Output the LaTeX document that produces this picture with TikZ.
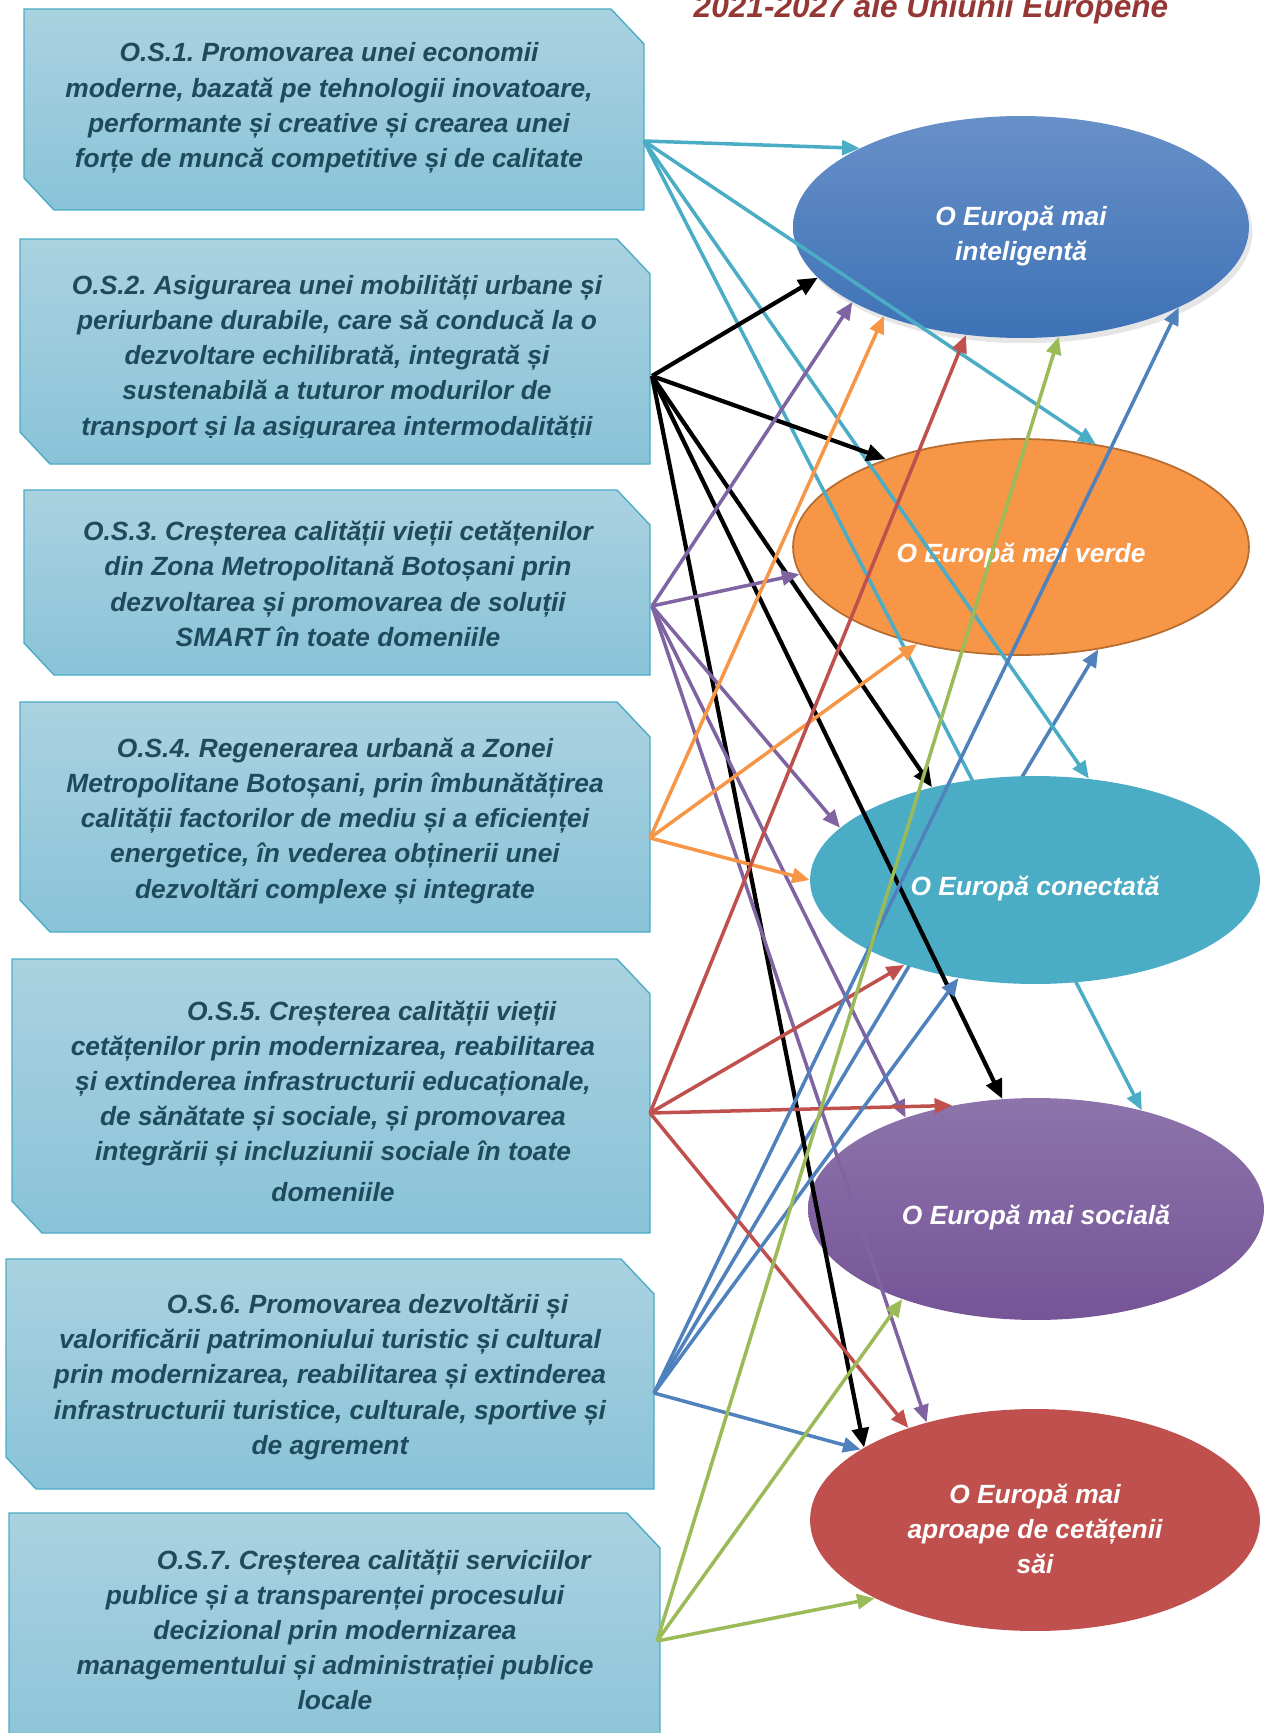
\documentclass[tikz,border=0pt]{standalone}
\usepackage{fontspec}
\setmainfont{Liberation Sans}
\usepackage{tikz}
\usetikzlibrary{arrows.meta,shapes.geometric,shadows}
\definecolor{boxtop}{RGB}{170,210,224}
\definecolor{boxbot}{RGB}{137,195,216}
\definecolor{boxline}{RGB}{75,172,198}
\definecolor{boxtext}{RGB}{30,74,92}
\definecolor{titlered}{RGB}{149,55,53}
\definecolor{smarttop}{RGB}{104,144,200}
\definecolor{smartbot}{RGB}{61,114,182}
\definecolor{greenfill}{RGB}{247,150,70}
\definecolor{greenline}{RGB}{182,109,49}
\definecolor{connfill}{RGB}{75,172,198}
\definecolor{socialtop}{RGB}{141,116,171}
\definecolor{socialbot}{RGB}{117,84,151}
\definecolor{citfill}{RGB}{192,80,77}
\definecolor{cteal}{RGB}{75,172,198}
\definecolor{cpurple}{RGB}{128,100,162}
\definecolor{corange}{RGB}{247,150,70}
\definecolor{cred}{RGB}{192,80,77}
\definecolor{cblue}{RGB}{79,129,189}
\definecolor{cgreen}{RGB}{155,187,89}

% chamfered frame: left, top, right, bottom
\newcommand{\osframe}[4]{%
  \shade[osbox] (#1,#2) -- ({#3-33},#2) -- (#3,{#2+35}) -- (#3,#4) -- ({#1+30},#4) -- (#1,{#4-32}) -- cycle;}
\newcommand{\gstrut}{\rule{0pt}{21pt}}

\begin{document}
\frenchspacing
\begin{tikzpicture}[x=0.02cm,y=-0.02cm,
    osbox/.style={top color=boxtop,bottom color=boxbot,draw=boxline,line width=0.8pt},
    ostext/.style={text=boxtext,font=\fontsize{15}{20}\selectfont\bfseries\itshape,align=center},
    goal/.style={ellipse,inner sep=0pt,text=white,font=\fontsize{15}{20}\selectfont\bfseries\itshape,align=center},
    link/.style={-{Triangle[length=10pt,width=8.5pt]},line width=2pt},
    heavy/.style={-{Triangle[length=11pt,width=9.5pt]},line width=2.4pt}]
  \useasboundingbox (0,0) rectangle (1270,1733);

  \node[text=titlered,font=\fontsize{18}{20}\selectfont\bfseries\itshape,anchor=base] (title) at (931,18)
    {2021-2027 ale Uniunii Europene};

  % obiectivele specifice
  \osframe{24}{9}{644}{210}
  \node[ostext] (os1txt) at (329,108) {O.S.1. Promovarea unei economii\\moderne, bazată pe tehnologii inovatoare,\\performante și creative și crearea unei\\forțe de muncă competitive și de calitate};
  \osframe{20}{239}{650}{464}
  \begin{scope}
    \clip (20,239) rectangle (650,437);
    \node[ostext] (os2txt) at (337,358) {O.S.2. Asigurarea unei mobilități urbane și\\periurbane durabile, care să conducă la o\\dezvoltare echilibrată, integrată și\\sustenabilă a tuturor modurilor de\\transport și la asigurarea intermodalității};
  \end{scope}
  \osframe{24}{490}{650}{675}
  \node[ostext] (os3txt) at (338,584) {O.S.3. Creșterea calității vieții cetățenilor\\din Zona Metropolitană Botoșani prin\\dezvoltarea și promovarea de soluții\\SMART în toate domeniile};
  \osframe{20}{702}{650}{932}
  \node[ostext] (os4txt) at (335,821) {O.S.4. Regenerarea urbană a Zonei\\Metropolitane Botoșani, prin îmbunătățirea\\calității factorilor de mediu și a eficienței\\energetice, în vederea obținerii unei\\dezvoltări complexe și integrate};
  \osframe{12}{959}{650}{1233}
  \node[ostext] (os5txt) at (333,1101) {\hspace*{1.55cm}O.S.5. Creșterea calității vieții\\cetățenilor prin modernizarea, reabilitarea\\și extinderea infrastructurii educaționale,\\de sănătate și sociale, și promovarea\\integrării și incluziunii sociale în toate\\[3pt]domeniile};
  \osframe{6}{1259}{654}{1489}
  \node[ostext] (os6txt) at (330,1377) {\hspace*{1.5cm}O.S.6. Promovarea dezvoltării și\\valorificării patrimoniului turistic și cultural\\prin modernizarea, reabilitarea și extinderea\\infrastructurii turistice, culturale, sportive și\\de agrement};
  \osframe{9}{1513}{660}{1770}
  \node[ostext] (os7txt) at (335,1630) {\hspace*{1.55cm}O.S.7. Creșterea calității serviciilor\\publice și a transparenței procesului\\decizional prin modernizarea\\managementului și administrației publice\\locale};

  \coordinate (os1) at (644,141);
  \coordinate (os2) at (652,376);
  \coordinate (os3) at (652,606);
  \coordinate (os4) at (650,838);
  \coordinate (os5) at (650,1113);
  \coordinate (os6) at (654,1393);
  \coordinate (os7) at (657,1641);

  % obiectivele de politica
  \node[goal,minimum width=9.12cm,minimum height=4.44cm,top color=smarttop,bottom color=smartbot,
    drop shadow={opacity=0.2,shadow xshift=2pt,shadow yshift=-3pt}] (eusmart) at (1021,227) {\gstrut O Europă mai\\inteligentă};
  \node[goal,minimum width=9.12cm,minimum height=4.32cm,fill=greenfill,draw=greenline,line width=1pt] (eugreen) at (1021,547) {\gstrut O Europă mai verde};
  \node[goal,minimum width=9.12cm,minimum height=4.44cm,top color=socialtop,bottom color=socialbot] (eusocial) at (1036,1209) {\gstrut O Europă mai socială};
  \node[goal,minimum width=9.0cm,minimum height=4.44cm,fill=citfill] (eucitizen) at (1035,1520) {\gstrut O Europă mai\\aproape de cetățenii\\săi};

  % these two pass behind the third ellipse
  \draw[link,cteal] (os1) -- (eusocial.43);
  \draw[link,cblue] (os6) -- (eugreen.307);

  \node[goal,minimum width=9.0cm,minimum height=4.16cm,fill=connfill] (euconn) at (1035,880) {\gstrut O Europă conectată};

  \draw[link,cteal] (os1) -- (eusmart.154);
  \draw[link,cteal] (os1) -- (eugreen.54);
  \draw[link,cteal] (os1) -- (euconn.62);

  \draw[heavy,black] (os2) -- (eusmart.194);
  \draw[heavy,black] (os2) -- (eugreen.147);
  \draw[heavy,black] (os2) -- (euconn.138);
  \draw[heavy,black] (os2) -- (eusocial.107);
  \draw[heavy,black] (os2) -- (eucitizen.157);

  \draw[link,cpurple] (os3) -- (eusmart.204);
  \draw[link,cpurple] (os3) -- (eugreen.187);
  \draw[link,cpurple] (os3) -- (euconn.165);
  \draw[link,cpurple] (os3) -- (eusocial.145);
  \draw[link,cpurple] (os3) -- (eucitizen.138);

  \draw[link,corange] (os4) -- (eusmart.213);
  \draw[link,corange] (os4) -- (eugreen.223);
  \draw[link,corange] (os4) -- (euconn.180);

  \draw[link,cred] (os5) -- (eusmart.243);
  \draw[link,cred] (os5) -- (euconn.213);
  \draw[link,cred] (os5) -- (eusocial.129);
  \draw[link,cred] (os5) -- (eucitizen.144);

  \draw[link,cblue] (os6) -- (eusmart.333);
  \draw[link,cblue] (os6) -- (euconn.232);
  \draw[link,cblue] (os6) -- (eucitizen.158);

  \draw[link,cgreen] (os7) -- (eusmart.289);
  \draw[link,cgreen] (os7) -- (eusocial.214);
  \draw[link,cgreen] (os7) -- (eucitizen.206);
\end{tikzpicture}
\end{document}
